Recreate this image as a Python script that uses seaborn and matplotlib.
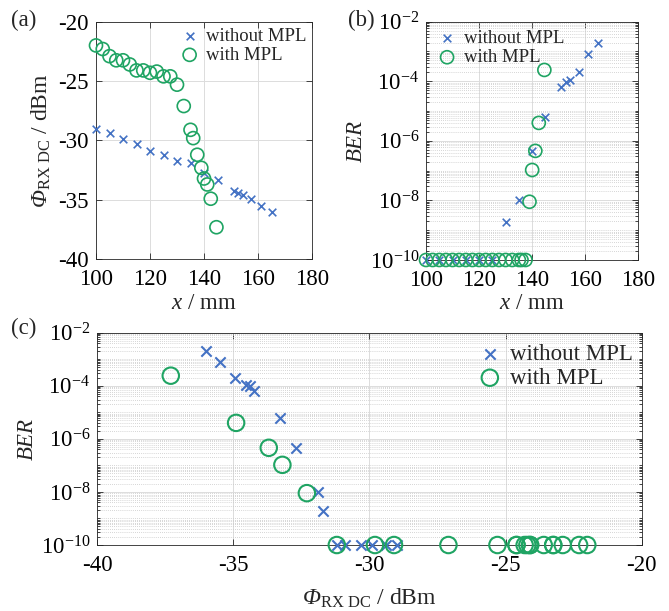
import numpy as np
import pandas as pd
import matplotlib
matplotlib.use('Agg')
import matplotlib.pyplot as plt
import seaborn as sns
from matplotlib.ticker import FixedLocator, LogLocator, NullFormatter, LogFormatterMathtext

# Messwerte ohne MPL
x_wo = [100, 105, 110, 115, 120, 125, 130, 135, 140, 145, 151, 152.7, 154.3, 157.5, 161, 165]
phi_wo = [-29.0, -29.4, -29.9, -30.3, -30.9, -31.2, -31.7, -31.9, -32.7, -33.3,
          -34.25, -34.4, -34.55, -34.95, -35.5, -36.0]
ber_wo = [1e-10, 1e-10, 1e-10, 1e-10, 1e-10, 1e-10, 1.9e-9, 1e-8, 4.7e-7, 6.2e-6,
          6.2e-5, 9.5e-5, 1.1e-4, 2e-4, 8e-4, 2e-3]

# Messwerte mit MPL
x_w = [100, 102.5, 105, 107.5, 110, 112.5, 115, 117.5, 120, 122.5, 125, 127.5, 130,
       132.5, 135, 136, 137.5, 139, 140, 141.2, 142.5, 144.6]
phi_w = [-22.0, -22.3, -22.9, -23.25, -23.25, -23.6, -24.1, -24.1, -24.3, -24.2, -24.6,
         -24.6, -25.3, -27.1, -29.1, -29.8, -31.2, -32.3, -33.2, -33.7, -34.9, -37.3]
ber_w = [1e-10] * 17 + [9e-9, 1.05e-7, 4.6e-7, 4e-6, 2.4e-4]

df_wo = pd.DataFrame({'x': x_wo, 'phi': phi_wo, 'ber': ber_wo})
df_w = pd.DataFrame({'x': x_w, 'phi': phi_w, 'ber': ber_w})

blue = '#4472C4'
green = '#1FA463'

sns.set_theme(style='ticks')
plt.rcParams['font.family'] = ['Liberation Serif', 'DejaVu Serif']
plt.rcParams['mathtext.fontset'] = 'custom'
plt.rcParams['mathtext.rm'] = 'Liberation Serif'
plt.rcParams['mathtext.it'] = 'Liberation Serif:italic'
plt.rcParams['mathtext.cal'] = 'Liberation Serif:italic'
plt.rcParams['axes.unicode_minus'] = False

fig = plt.figure(figsize=(6.69, 6.11), dpi=100)
ax_a = fig.add_axes([0.1435, 0.5756, 0.3229, 0.3889])
ax_b = fig.add_axes([0.6368, 0.5745, 0.3173, 0.3900])
ax_c = fig.add_axes([0.1454, 0.1080, 0.8138, 0.3475])

# italic Phi via the cal slot (mathtext forces Greek capitals upright in 'it')
phi_label = r'$\mathcal{\Phi}_{\mathrm{RX\ DC}}$ / dBm'
x_label = r'$\mathit{x}$ / mm'


def style_axes(ax, logy=False):
    ax.tick_params(direction='in', top=True, right=True, which='both',
                   labelsize=16.5, colors='#262626', labelcolor='black',
                   length=4, width=0.6)
    ax.tick_params(axis='x', which='major', pad=7)
    ax.tick_params(axis='y', which='major', pad=5)
    ax.tick_params(which='minor', length=2)
    for sp in ax.spines.values():
        sp.set_color('#262626')
        sp.set_linewidth(0.6)
    ax.grid(True, which='major', color='#dcdcdc', lw=0.7)
    if logy:
        ax.set_yscale('log')
        ax.set_ylim(1e-10, 1e-2)
        ax.yaxis.set_major_locator(FixedLocator([1e-10, 1e-8, 1e-6, 1e-4, 1e-2]))
        ax.yaxis.set_major_formatter(LogFormatterMathtext())
        ax.yaxis.set_minor_locator(LogLocator(base=10, subs=np.arange(1, 10), numticks=100))
        ax.yaxis.set_minor_formatter(NullFormatter())
        ax.yaxis.grid(True, which='minor', color='#c8c8c8', ls=(0, (1, 1.5)), lw=0.6)
    ax.set_axisbelow(True)


def draw(ax, xcol, ycol, s_x, s_o, lw):
    sns.scatterplot(data=df_wo, x=xcol, y=ycol, ax=ax, marker='x', color=blue,
                    s=s_x, linewidth=lw, label='without MPL', clip_on=False, zorder=3)
    sns.scatterplot(data=df_w, x=xcol, y=ycol, ax=ax, marker='o', color=green,
                    facecolors='none', edgecolor=green, s=s_o, linewidth=lw,
                    label='with MPL', clip_on=False, zorder=3)


def add_legend(ax, anchor, fs):
    ax.legend(loc='upper left', bbox_to_anchor=anchor, frameon=False,
              fontsize=fs, borderpad=0, handlelength=1, handletextpad=0.4,
              labelspacing=0.1, borderaxespad=0)


# (a)
draw(ax_a, 'x', 'phi', 30, 88, 1.2)
style_axes(ax_a)
ax_a.set_xlim(100, 180)
ax_a.set_ylim(-40, -20)
ax_a.set_xticks([100, 120, 140, 160, 180])
ax_a.set_yticks([-40, -35, -30, -25, -20])
ax_a.set_xlabel(x_label, fontsize=16.5, labelpad=2)
ax_a.set_ylabel(phi_label, fontsize=17, labelpad=4)
add_legend(ax_a, (0.39, 0.975), 13.5)

# (b)
draw(ax_b, 'x', 'ber', 30, 88, 1.2)
style_axes(ax_b, logy=True)
ax_b.set_xlim(100, 180)
ax_b.set_xticks([100, 120, 140, 160, 180])
ax_b.set_xlabel(x_label, fontsize=16.5, labelpad=2)
ax_b.set_ylabel(r'$\mathit{BER}$', fontsize=16.5, labelpad=2)
add_legend(ax_b, (0.055, 0.965), 13.5)

# (c)
draw(ax_c, 'phi', 'ber', 55, 140, 1.5)
style_axes(ax_c, logy=True)
ax_c.set_xlim(-40, -20)
ax_c.set_xticks([-40, -35, -30, -25, -20])
ax_c.set_xlabel(phi_label, fontsize=17, labelpad=8)
ax_c.set_ylabel(r'$\mathit{BER}$', fontsize=16.5, labelpad=2)
add_legend(ax_c, (0.70, 0.945), 16.5)

fig.text(0.035, 0.967, '(a)', fontsize=16.5, ha='center', va='center')
fig.text(0.54, 0.967, '(b)', fontsize=16.5, ha='center', va='center')
fig.text(0.036, 0.462, '(c)', fontsize=16.5, ha='center', va='center')

fig.savefig('out.png', dpi=100)
